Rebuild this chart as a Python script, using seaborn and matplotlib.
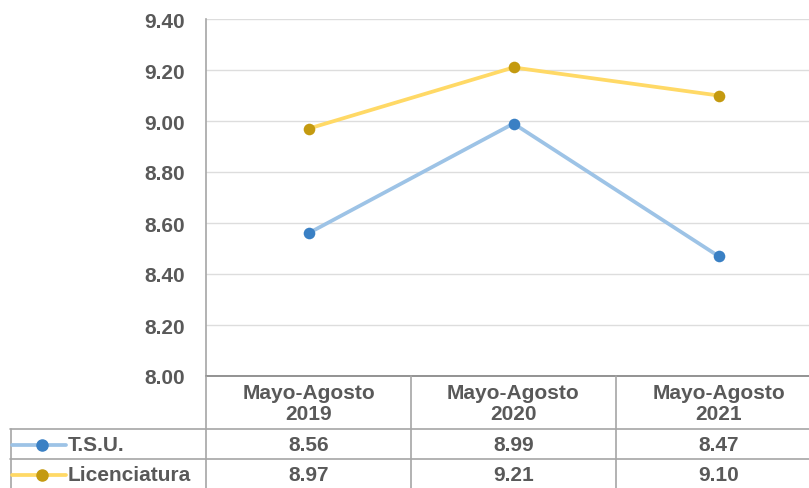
import matplotlib
matplotlib.use("Agg")
import matplotlib.pyplot as plt
import matplotlib.transforms as mtransforms
from matplotlib.lines import Line2D
import seaborn as sns
import pandas as pd

periods = ["Mayo-Agosto\n2019", "Mayo-Agosto\n2020", "Mayo-Agosto\n2021"]
series_names = ["T.S.U.", "Licenciatura"]
tsu = [8.56, 8.99, 8.47]
lic = [8.97, 9.21, 9.10]
yticks = [8.00, 8.20, 8.40, 8.60, 8.80, 9.00, 9.20, 9.40]

line_colors = {"T.S.U.": "#9DC3E6", "Licenciatura": "#FFD966"}
marker_colors = {"T.S.U.": "#3A80C4", "Licenciatura": "#C49A10"}
text_color = "#595959"
FS = 15

df = pd.DataFrame({
    "period": periods * 2,
    "series": [series_names[0]] * 3 + [series_names[1]] * 3,
    "value": tsu + lic,
})

sns.set_theme(style="white")
plt.rcParams["font.family"] = ["Liberation Sans", "DejaVu Sans"]

W, H = 809, 489
fig = plt.figure(figsize=(W / 100, H / 100), dpi=100)

def fy(py):
    return 1 - py / H

def fx(px):
    return px / W

ax_left, ax_right = 206, 821
ax_top, ax_bottom = 20, 377
ax = fig.add_axes([fx(ax_left), fy(ax_bottom), (ax_right - ax_left) / W, (ax_bottom - ax_top) / H])

sns.lineplot(data=df, x="period", y="value", hue="series", palette=line_colors,
             linewidth=2.7, sort=False, legend=False, ax=ax, zorder=3)
for name, vals in zip(series_names, [tsu, lic]):
    ax.scatter(periods, vals, s=70, color=marker_colors[name],
               linewidth=0, zorder=4)

ax.set_xlim(-0.5, 2.5)
ax.set_ylim(8.0, 9.4)
ax.set_yticks(yticks)
ax.set_yticklabels([f"{v:.2f}" for v in yticks], fontsize=FS, fontweight="bold", color=text_color)
ax.tick_params(axis="y", length=0, pad=15)
ax.set_xticks([])
ax.set_xlabel("")
ax.set_ylabel("")
ax.grid(axis="y", color="#DDDDDD", linewidth=1)
ax.set_axisbelow(True)
for s in ["top", "right", "bottom"]:
    ax.spines[s].set_visible(False)
ax.spines["left"].set_color("#A6A6A6")
ax.spines["left"].set_linewidth(1.2)

# data table below the axes
blend = mtransforms.blended_transform_factory(ax.transData, fig.transFigure)
border = "#A6A6A6"
row_y = [377, 430, 460, 490]
fig.add_artist(Line2D([fx(ax_left), 1], [fy(377)] * 2, color="#808080", lw=1.2))
for py in [430, 460]:
    fig.add_artist(Line2D([fx(10), 1], [fy(py)] * 2, color=border, lw=1.2))
for xb in [-0.5, 0.5, 1.5, 2.5]:
    fig.add_artist(Line2D([xb, xb], [fy(377), fy(489)], color=border, lw=1.2, transform=blend))
fig.add_artist(Line2D([fx(10.5), fx(10.5)], [fy(430), fy(489)], color=border, lw=1.2))

for i, p in enumerate(periods):
    fig.text(i, fy(404), p, transform=blend, ha="center", va="center",
             fontsize=FS, fontweight="bold", color=text_color, linespacing=1.08)

for r, (name, vals) in enumerate(zip(series_names, [tsu, lic])):
    yc = fy((row_y[r + 1] + row_y[r + 2]) / 2 + 1)
    fig.add_artist(Line2D([fx(12), fx(66)], [yc, yc], color=line_colors[name], lw=2.7))
    fig.add_artist(Line2D([fx(42)], [yc], marker="o", markersize=8,
                          color=marker_colors[name], lw=0))
    fig.text(fx(68), yc, name, ha="left", va="center", fontsize=FS,
             fontweight="bold", color=text_color)
    for i, v in enumerate(vals):
        fig.text(i, yc, f"{v:.2f}", transform=blend, ha="center", va="center",
                 fontsize=FS, fontweight="bold", color=text_color)

fig.savefig("out.png", dpi=100)
